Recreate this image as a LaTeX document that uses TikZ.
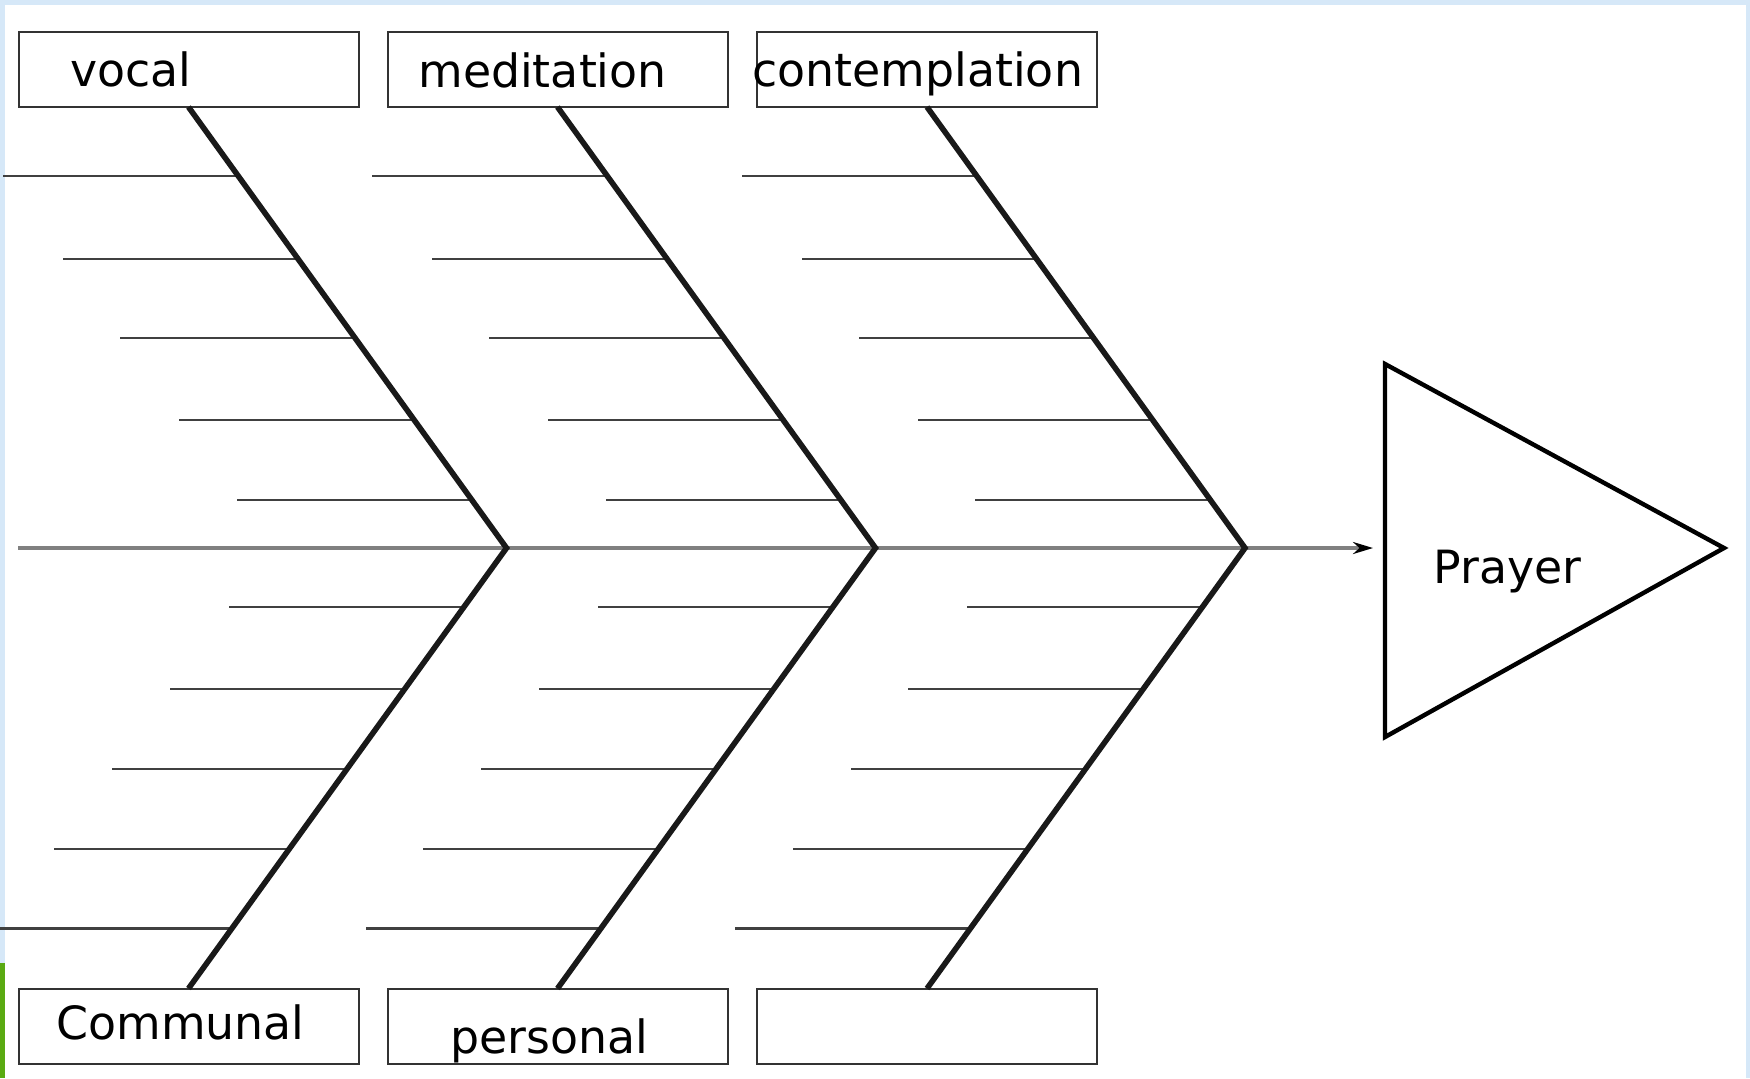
\documentclass[tikz,border=0pt]{standalone}
\usepackage{fontspec}
\setmainfont{DejaVu Sans}
\usetikzlibrary{calc,arrows.meta}
\definecolor{bordblue}{HTML}{D6E8F8}
\definecolor{bordgreen}{HTML}{5AAA12}
\tikzset{
  labelbox/.style={draw=black!80, line width=1pt, rectangle, minimum width=170pt, minimum height=37.5pt, inner sep=0pt, outer sep=0pt},
  spine/.style={draw=black!90, line width=2.8pt, line join=miter},
  rib/.style={draw=black!75, line width=1.1pt},
  mainline/.style={draw=black!50, line width=1.6pt},
  lbl/.style={anchor=base west, inner sep=0pt, font=\fontsize{22.9}{27}\selectfont},
}
\begin{document}
\begin{tikzpicture}[x=0.5pt,y=-0.5pt]
\useasboundingbox (0,0) rectangle (1750,1078);
% page border bands
\fill[bordblue] (0,0) rectangle (1750,5);
\fill[bordblue] (0,0) rectangle (5,1078);
\fill[bordblue] (1746,0) rectangle (1750,1078);
\fill[bordgreen] (0,963) rectangle (5,1078);
% boxes
\node[labelbox] (vbox) at (188.5,69.5) {};
\node[labelbox] (mbox) at (557.5,69.5) {};
\node[labelbox] (kbox) at (927,69.5) {};
\node[labelbox] (cbox) at (188.5,1026) {};
\node[labelbox] (pbox) at (557.5,1026) {};
\node[labelbox] (ebox) at (927,1026) {};
% labels
\node[lbl] (tvocal) at (70,86) {vocal};
\node[lbl] (tmed) at (418,87) {meditation};
\node[lbl] (tcont) at (752,86) {contemplation};
\node[lbl] (tcomm) at (56,1039) {Communal};
\node[lbl] (tpers) at (450,1053) {personal};
% junctions
\coordinate (j1) at ($(vbox.south)+(318,441)$);
\coordinate (j2) at ($(mbox.south)+(318,441)$);
\coordinate (j3) at ($(kbox.south)+(318,441)$);
\coordinate (tail) at (18,548);
\coordinate (arrowend) at (1373,548);
% ribs
\foreach \t/\j/\b in {vbox/j1/cbox, mbox/j2/pbox, kbox/j3/ebox}{
  \foreach \yy in {176,259,338,420,500}{
    \path ($(\t.south)!{(\yy-107)/441}!(\j)$) coordinate (rp);
    \draw[rib] (rp) -- ++(-235,0);
  }
  \foreach \yy in {607,689,769,849,929}{
    \path ($(\j)!{(\yy-548)/441}!(\b.north)$) coordinate (rp);
    \draw[rib] (rp) -- ++(-235,0);
  }
}
% main line
\draw[mainline] (tail) -- (j1) -- (j2) -- (j3);
\draw[mainline, -{Stealth[length=10pt,width=6pt,black]}] (j3) -- (arrowend);
% spines
\draw[spine] (vbox.south) -- (j1) -- (cbox.north);
\draw[spine] (mbox.south) -- (j2) -- (pbox.north);
\draw[spine] (kbox.south) -- (j3) -- (ebox.north);
% head triangle
\coordinate (ha) at (1385,364);
\coordinate (hb) at (1385,737);
\coordinate (hc) at (1724,548);
\draw[line width=2.2pt, line join=miter] (ha) -- (hc) -- (hb) -- cycle;
\node[lbl] (tprayer) at (1433,583) {Prayer};
\end{tikzpicture}
\end{document}
